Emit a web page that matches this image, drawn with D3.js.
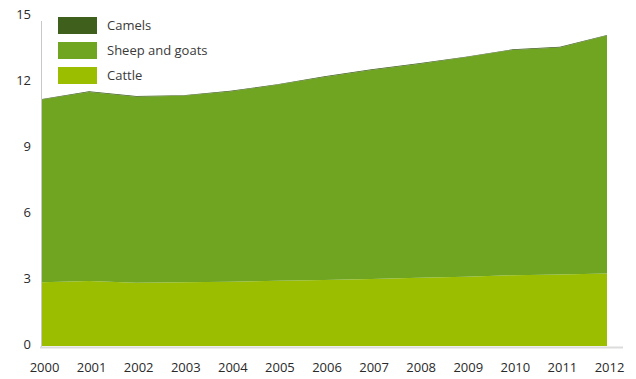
<!DOCTYPE html>
<html><head><meta charset="utf-8">
<script src="https://cdn.jsdelivr.net/npm/d3@7"></script>
<style>html,body{margin:0;padding:0;background:#fff;}svg{display:block;}</style>
</head><body>
<svg id="chart" width="636" height="379"></svg>
<script>
const years = [2000,2001,2002,2003,2004,2005,2006,2007,2008,2009,2010,2011,2012];
const cattle = [2.90,2.95,2.88,2.90,2.92,2.97,3.00,3.05,3.10,3.15,3.22,3.25,3.30];
const sheepGoats = [8.30,8.60,8.45,8.47,8.65,8.90,9.23,9.50,9.72,9.97,10.24,10.32,10.81];
const camels = [0.03,0.03,0.03,0.03,0.03,0.03,0.03,0.03,0.03,0.03,0.03,0.03,0.03];
const yTicks = [0,3,6,9,12,15];
const seriesNames = ["Cattle","Sheep and goats","Camels"];
const legendOrder = ["Camels","Sheep and goats","Cattle"];
const colors = {"Cattle":"#9bbf00","Sheep and goats":"#6fa520","Camels":"#3f5f1c"};

const rows = years.map((y,i)=>({year:y,"Cattle":cattle[i],"Sheep and goats":sheepGoats[i],"Camels":camels[i]}));
const svg = d3.select("#chart");
const x = d3.scaleLinear().domain([2000,2012]).range([42,607]);
const y = d3.scaleLinear().domain([0,15]).range([346,16]);
const stack = d3.stack().keys(seriesNames)(rows);
const area = d3.area().x(d=>x(d.data.year)).y0(d=>y(d[0])).y1(d=>y(d[1]));
svg.append("g").selectAll("path").data(stack).join("path")
  .attr("d",area).attr("fill",d=>colors[d.key]);

const font = "'Open Sans', sans-serif";
svg.append("line").attr("x1",41.5).attr("x2",41.5).attr("y1",21).attr("y2",347).attr("stroke","#c8c8cc").attr("stroke-width",1);
svg.append("line").attr("x1",40).attr("x2",623).attr("y1",347.5).attr("y2",347.5).attr("stroke","#dcdcdc").attr("stroke-width",2);

const yAxis = d3.axisLeft(y).tickValues(yTicks).tickSize(0).tickPadding(0).tickFormat(d3.format("d"));
const gy = svg.append("g").attr("transform","translate(31,-2)").call(yAxis);
gy.select(".domain").remove();
gy.selectAll("text").attr("font-family",font).attr("font-size",13).attr("fill","#2a2a2a");

const xAxis = d3.axisBottom(x).tickValues(years).tickSize(0).tickPadding(0).tickFormat(d3.format("d"));
const gx = svg.append("g").attr("transform","translate(2,363)").call(xAxis);
gx.select(".domain").remove();
gx.selectAll("text").attr("font-family",font).attr("font-size",13).attr("fill","#2a2a2a");

const lg = svg.append("g");
legendOrder.forEach((name,i)=>{
  const gy0 = 17 + i*25;
  lg.append("rect").attr("x",58).attr("y",gy0).attr("width",39).attr("height",17).attr("fill",colors[name]);
  lg.append("text").attr("x",107).attr("y",gy0+13).attr("font-family",font).attr("font-size",13).attr("fill","#3a3a3a").text(name);
});
</script>
</body></html>
